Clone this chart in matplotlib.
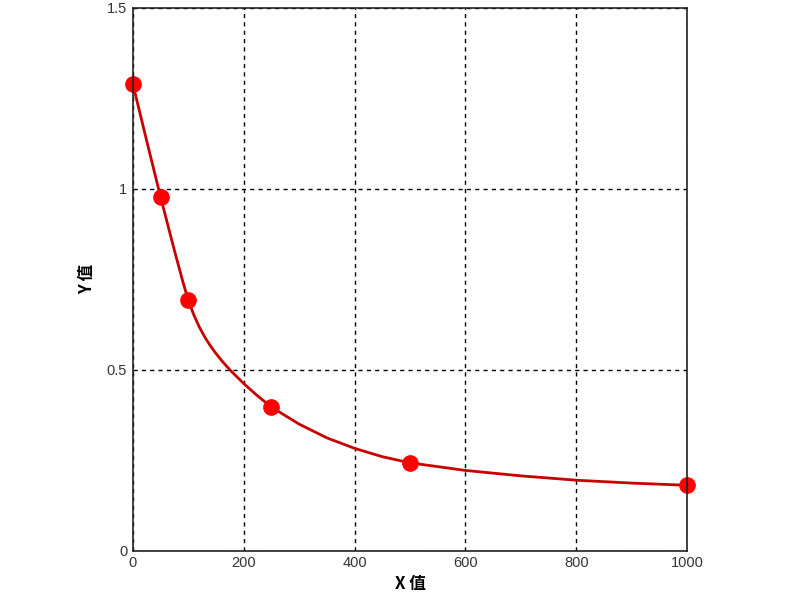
import matplotlib
matplotlib.use('Agg')
from matplotlib import pyplot as plt

# standard points (markers)
x_pts = [0, 50, 100, 250, 500, 1000]
y_pts = [1.29, 0.978, 0.692, 0.397, 0.242, 0.181]

# fitted curve
curve_x = [0, 25, 50, 75, 90, 100, 110, 120, 130, 140, 150, 160, 175, 200,
           225, 250, 300, 350, 400, 450, 500, 600, 700, 800, 900, 1000]
curve_y = [1.29, 1.133, 0.978, 0.83, 0.745, 0.692, 0.652, 0.618, 0.59, 0.566,
           0.545, 0.526, 0.5, 0.462, 0.428, 0.397, 0.35, 0.312, 0.283, 0.26,
           0.243, 0.222, 0.207, 0.195, 0.187, 0.181]

x_ticks = [0, 200, 400, 600, 800, 1000]
y_ticks = [0, 0.5, 1, 1.5]
y_tick_labels = ['0', '0.5', '1', '1.5']

plt.rcParams['font.family'] = ['Liberation Sans', 'DejaVu Sans']

fig = plt.figure(figsize=(8, 6), dpi=100)
ax = fig.add_axes([0.166, 0.082, 0.693, 0.905])

ax.plot(curve_x, curve_y, color='#c80000', lw=2, zorder=3)
ax.plot(x_pts, y_pts, 'o', color='#ff0000', markersize=11, zorder=4, clip_on=False)

ax.set_xlim(0, 1000)
ax.set_ylim(0, 1.5)
ax.set_xticks(x_ticks)
ax.set_yticks(y_ticks)
ax.set_yticklabels(y_tick_labels)
ax.tick_params(length=0, labelsize=10.5, colors='#333333', pad=4)

ax.grid(True, color='black', linestyle=(0, (3, 3)), linewidth=1)
for s in ax.spines.values():
    s.set_color('#222222')
    s.set_linewidth(1.2)
    s.set_zorder(5)

cjk = ['Noto Sans CJK SC', 'DejaVu Sans']
ax.set_xlabel('X 值', family=cjk, fontweight='bold', fontsize=12, labelpad=3)
ax.set_ylabel('Y 值', family=cjk, fontweight='bold', fontsize=12, labelpad=8)

fig.savefig('out.png', dpi=100, facecolor='white')
